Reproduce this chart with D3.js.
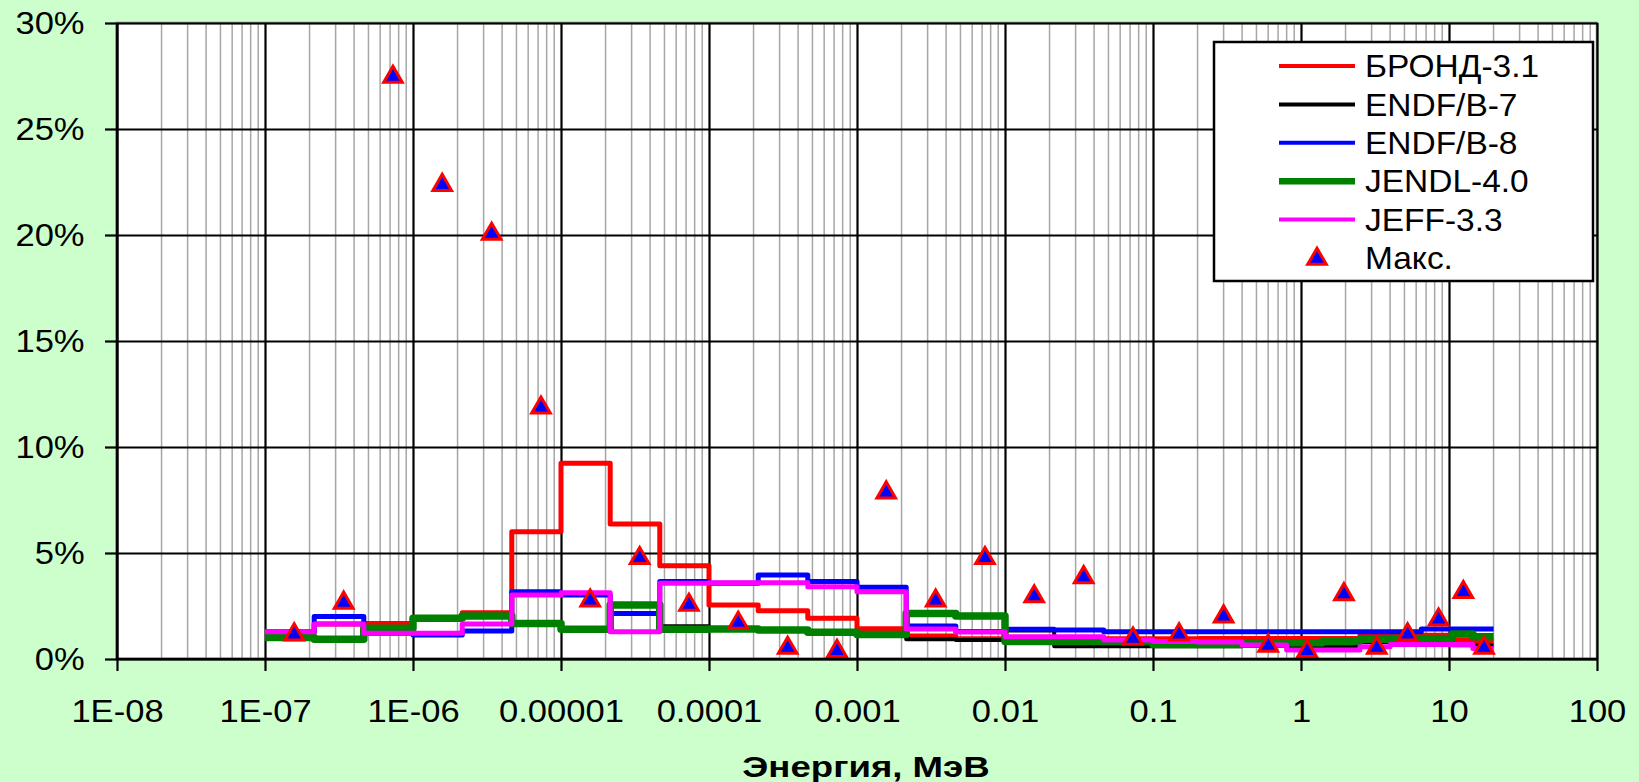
<!DOCTYPE html>
<html>
<head>
<meta charset="utf-8">
<script src="https://cdn.jsdelivr.net/npm/d3@7"></script>
<style>
  body { margin: 0; background: #ccffcc; }
  text { font-family: "Liberation Sans", Arial, sans-serif; fill: #000; }
</style>
</head>
<body>
<div id="chart"></div>
<script>
// group boundaries, MeV (28 groups)
const groupBounds = [1e-7, 2.15e-7, 4.65e-7, 1e-6, 2.15e-6, 4.65e-6, 1e-5, 2.15e-5, 4.65e-5,
  1e-4, 2.15e-4, 4.65e-4, 1e-3, 2.15e-3, 4.65e-3, 0.01, 0.0215, 0.0465,
  0.1, 0.2, 0.4, 0.8, 1.4, 2.5, 4.0, 6.5, 10.5, 14.5, 20];

// values in %, one per group
const brond31 = [1.25, 1.65, 1.68, 1.9, 2.18, 6.0, 9.23, 6.37, 4.4, 2.55, 2.28, 1.92, 1.43, 1.08,
  0.95, 1.0, 1.0, 0.95, 0.95, 0.97, 0.97, 0.97, 0.97, 1.1, 1.12, 1.12, 0.9, 0.85];
const endfb7 = [1.0, 0.93, 1.45, 1.92, 2.03, 1.68, 1.4, 2.5, 1.55, 1.4, 1.37, 1.26, 1.16, 0.93,
  0.9, 1.35, 0.6, 0.6, 0.6, 0.6, 0.62, 0.58, 0.58, 0.8, 0.85, 0.9, 0.65, 0.65];
const endfb8 = [1.29, 2.0, 1.21, 1.13, 1.32, 3.17, 3.02, 2.15, 3.65, 3.57, 3.96, 3.65, 3.38, 1.56,
  1.3, 1.4, 1.37, 1.29, 1.29, 1.29, 1.29, 1.29, 1.29, 1.29, 1.29, 1.42, 1.42, 1.42];
const jendl40 = [1.02, 0.93, 1.45, 1.92, 2.03, 1.68, 1.4, 2.55, 1.4, 1.42, 1.37, 1.26, 1.16, 2.15,
  2.03, 0.82, 0.82, 0.82, 0.68, 0.68, 0.72, 0.77, 0.82, 0.93, 0.97, 0.97, 1.18, 1.05];
const jeff33 = [1.29, 1.65, 1.21, 1.21, 1.65, 3.02, 3.13, 1.29, 3.57, 3.6, 3.6, 3.41, 3.17, 1.42,
  1.27, 1.05, 1.05, 0.9, 0.82, 0.8, 0.66, 0.42, 0.42, 0.58, 0.68, 0.68, 0.68, 0.5];

// "Макс." points
const maxEnergy = [1.575e-7, 3.4e-7, 7.325e-7, 1.575e-6, 3.4e-6, 7.325e-6, 1.575e-5, 3.4e-5, 7.325e-5,
  1.575e-4, 3.4e-4, 7.325e-4, 1.575e-3, 3.4e-3, 7.325e-3, 0.01575, 0.034, 0.07325,
  0.15, 0.3, 0.6, 1.1, 1.95, 3.25, 5.25, 8.5, 12.5, 17.25];
const maxValue = [1.2, 2.7, 27.5, 22.4, 20.1, 11.9, 2.8, 4.8, 2.6, 1.75, 0.57, 0.42, 7.9, 2.8,
  4.8, 3.0, 3.9, 1.0, 1.2, 2.05, 0.67, 0.42, 3.1, 0.57, 1.2, 1.9, 3.2, 0.57];

const seriesNames = ["БРОНД-3.1", "ENDF/B-7", "ENDF/B-8", "JENDL-4.0", "JEFF-3.3"];
const seriesValues = [brond31, endfb7, endfb8, jendl40, jeff33];
const seriesColors = ["#ff0000", "#000000", "#0000ff", "#008000", "#ff00ff"];
const seriesWidths = [5, 4, 5, 7.5, 5];
const legendWidths = [4, 4, 4, 6.5, 4];

const xTickValues = [1e-8, 1e-7, 1e-6, 1e-5, 1e-4, 1e-3, 0.01, 0.1, 1, 10, 100];
const xTickLabels = ["1E-08", "1E-07", "1E-06", "0.00001", "0.0001", "0.001", "0.01", "0.1", "1", "10", "100"];
const yTickValues = [0, 5, 10, 15, 20, 25, 30];
const yTickLabels = ["0%", "5%", "10%", "15%", "20%", "25%", "30%"];
const xTitle = "Энергия, МэВ";
const maxName = "Макс.";

const W = 1639, H = 782;
const margin = { top: 23, right: 42, bottom: 123, left: 117 },
  width = W - margin.left - margin.right,
  height = H - margin.top - margin.bottom;
const stretch = 1.08;

const svg = d3.select("#chart")
  .append("svg")
  .attr("width", W)
  .attr("height", H);

svg.append("rect").attr("width", W).attr("height", H).attr("fill", "#ccffcc");

const g = svg.append("g")
  .attr("transform", `translate(${margin.left},${margin.top})`);

const x = d3.scaleLog().domain([1e-8, 100]).range([0, width]);
const y = d3.scaleLinear().domain([0, 30]).range([height, 0]);

// plot area
g.append("rect")
  .attr("width", width).attr("height", height)
  .attr("fill", "#fff")
  .attr("stroke", "#808080").attr("stroke-width", 2.5);

// minor vertical grid (2..9 in every decade)
const minorTicks = xTickValues.slice(0, -1)
  .flatMap(p => d3.range(2, 10).map(k => k * p));
g.append("g")
  .selectAll("line")
  .data(minorTicks)
  .join("line")
  .attr("x1", d => x(d)).attr("x2", d => x(d))
  .attr("y1", 0).attr("y2", height)
  .attr("stroke", "#a6a6a6").attr("stroke-width", 1.5);

// major vertical grid
g.append("g")
  .call(d3.axisBottom(x).tickValues(xTickValues).tickSize(height).tickFormat(""))
  .call(a => a.select(".domain").remove())
  .call(a => a.selectAll("line").attr("stroke", "#000").attr("stroke-width", 2.2));

// horizontal grid
g.append("g")
  .call(d3.axisLeft(y).tickValues(yTickValues).tickSize(-width).tickFormat(""))
  .call(a => a.select(".domain").remove())
  .call(a => a.selectAll("line").attr("stroke", "#000").attr("stroke-width", 2.2));

// step lines
const line = d3.line()
  .x(d => x(d[0]))
  .y(d => y(d[1]))
  .curve(d3.curveStepAfter);

seriesValues.forEach((vals, i) => {
  const pts = vals.map((v, j) => [groupBounds[j], v]);
  pts.push([groupBounds[groupBounds.length - 1], vals[vals.length - 1]]);
  g.append("path")
    .datum(pts)
    .attr("fill", "none")
    .attr("stroke", seriesColors[i])
    .attr("stroke-width", seriesWidths[i])
    .attr("stroke-linejoin", "round")
    .attr("d", line);
});

// max markers
const tri = d3.symbol().type(d3.symbolTriangle).size(150);
g.append("g")
  .selectAll("path")
  .data(maxEnergy.map((e, i) => [e, maxValue[i]]))
  .join("path")
  .attr("transform", d => `translate(${x(d[0])},${y(d[1]) + 1})`)
  .attr("d", tri)
  .attr("fill", "#0000ff")
  .attr("stroke", "#ff0000")
  .attr("stroke-width", 3);

// axes
g.append("g")
  .attr("transform", `translate(0,${height})`)
  .call(d3.axisBottom(x).tickValues(xTickValues).tickSize(12).tickPadding(28)
    .tickFormat((d, i) => xTickLabels[i]))
  .call(a => a.select(".domain").attr("stroke-width", 2.5).attr("d", `M0,0H${width}`))
  .call(a => a.selectAll("line").attr("stroke-width", 2.2))
  .call(a => a.selectAll("text").attr("font-size", 32).attr("transform", `scale(${stretch},1)`));

g.append("g")
  .call(d3.axisLeft(y).tickValues(yTickValues).tickSize(12).tickPadding(18)
    .tickFormat((d, i) => yTickLabels[i]))
  .call(a => a.select(".domain").attr("stroke-width", 2.5).attr("d", `M0,${height}V0`))
  .call(a => a.selectAll("line").attr("stroke-width", 2.2))
  .call(a => a.selectAll("text").attr("font-size", 32).attr("transform", `scale(${stretch},1)`));

// axis title
svg.append("text")
  .attr("transform", `translate(${margin.left + width / 2 + 9},777) scale(1.22,1)`)
  .attr("text-anchor", "middle")
  .attr("font-size", 30)
  .attr("font-weight", "bold")
  .text(xTitle);

// legend
const leg = svg.append("g").attr("transform", "translate(1214,42)");
leg.append("rect")
  .attr("width", 379).attr("height", 239)
  .attr("fill", "#fff").attr("stroke", "#000").attr("stroke-width", 2.5);

const rowY = i => 24 + i * 38.4;
seriesNames.forEach((name, i) => {
  leg.append("line")
    .attr("x1", 65).attr("x2", 141)
    .attr("y1", rowY(i)).attr("y2", rowY(i))
    .attr("stroke", seriesColors[i]).attr("stroke-width", legendWidths[i]);
  leg.append("text")
    .attr("transform", `translate(151,${rowY(i)}) scale(${stretch},1)`)
    .attr("dy", "0.36em")
    .attr("font-size", 31)
    .text(name);
});
leg.append("path")
  .attr("transform", `translate(103,${rowY(5) + 1})`)
  .attr("d", tri)
  .attr("fill", "#0000ff").attr("stroke", "#ff0000").attr("stroke-width", 3);
leg.append("text")
  .attr("transform", `translate(151,${rowY(5)}) scale(${stretch},1)`)
  .attr("dy", "0.36em")
  .attr("font-size", 31)
  .text(maxName);
</script>
</body>
</html>
